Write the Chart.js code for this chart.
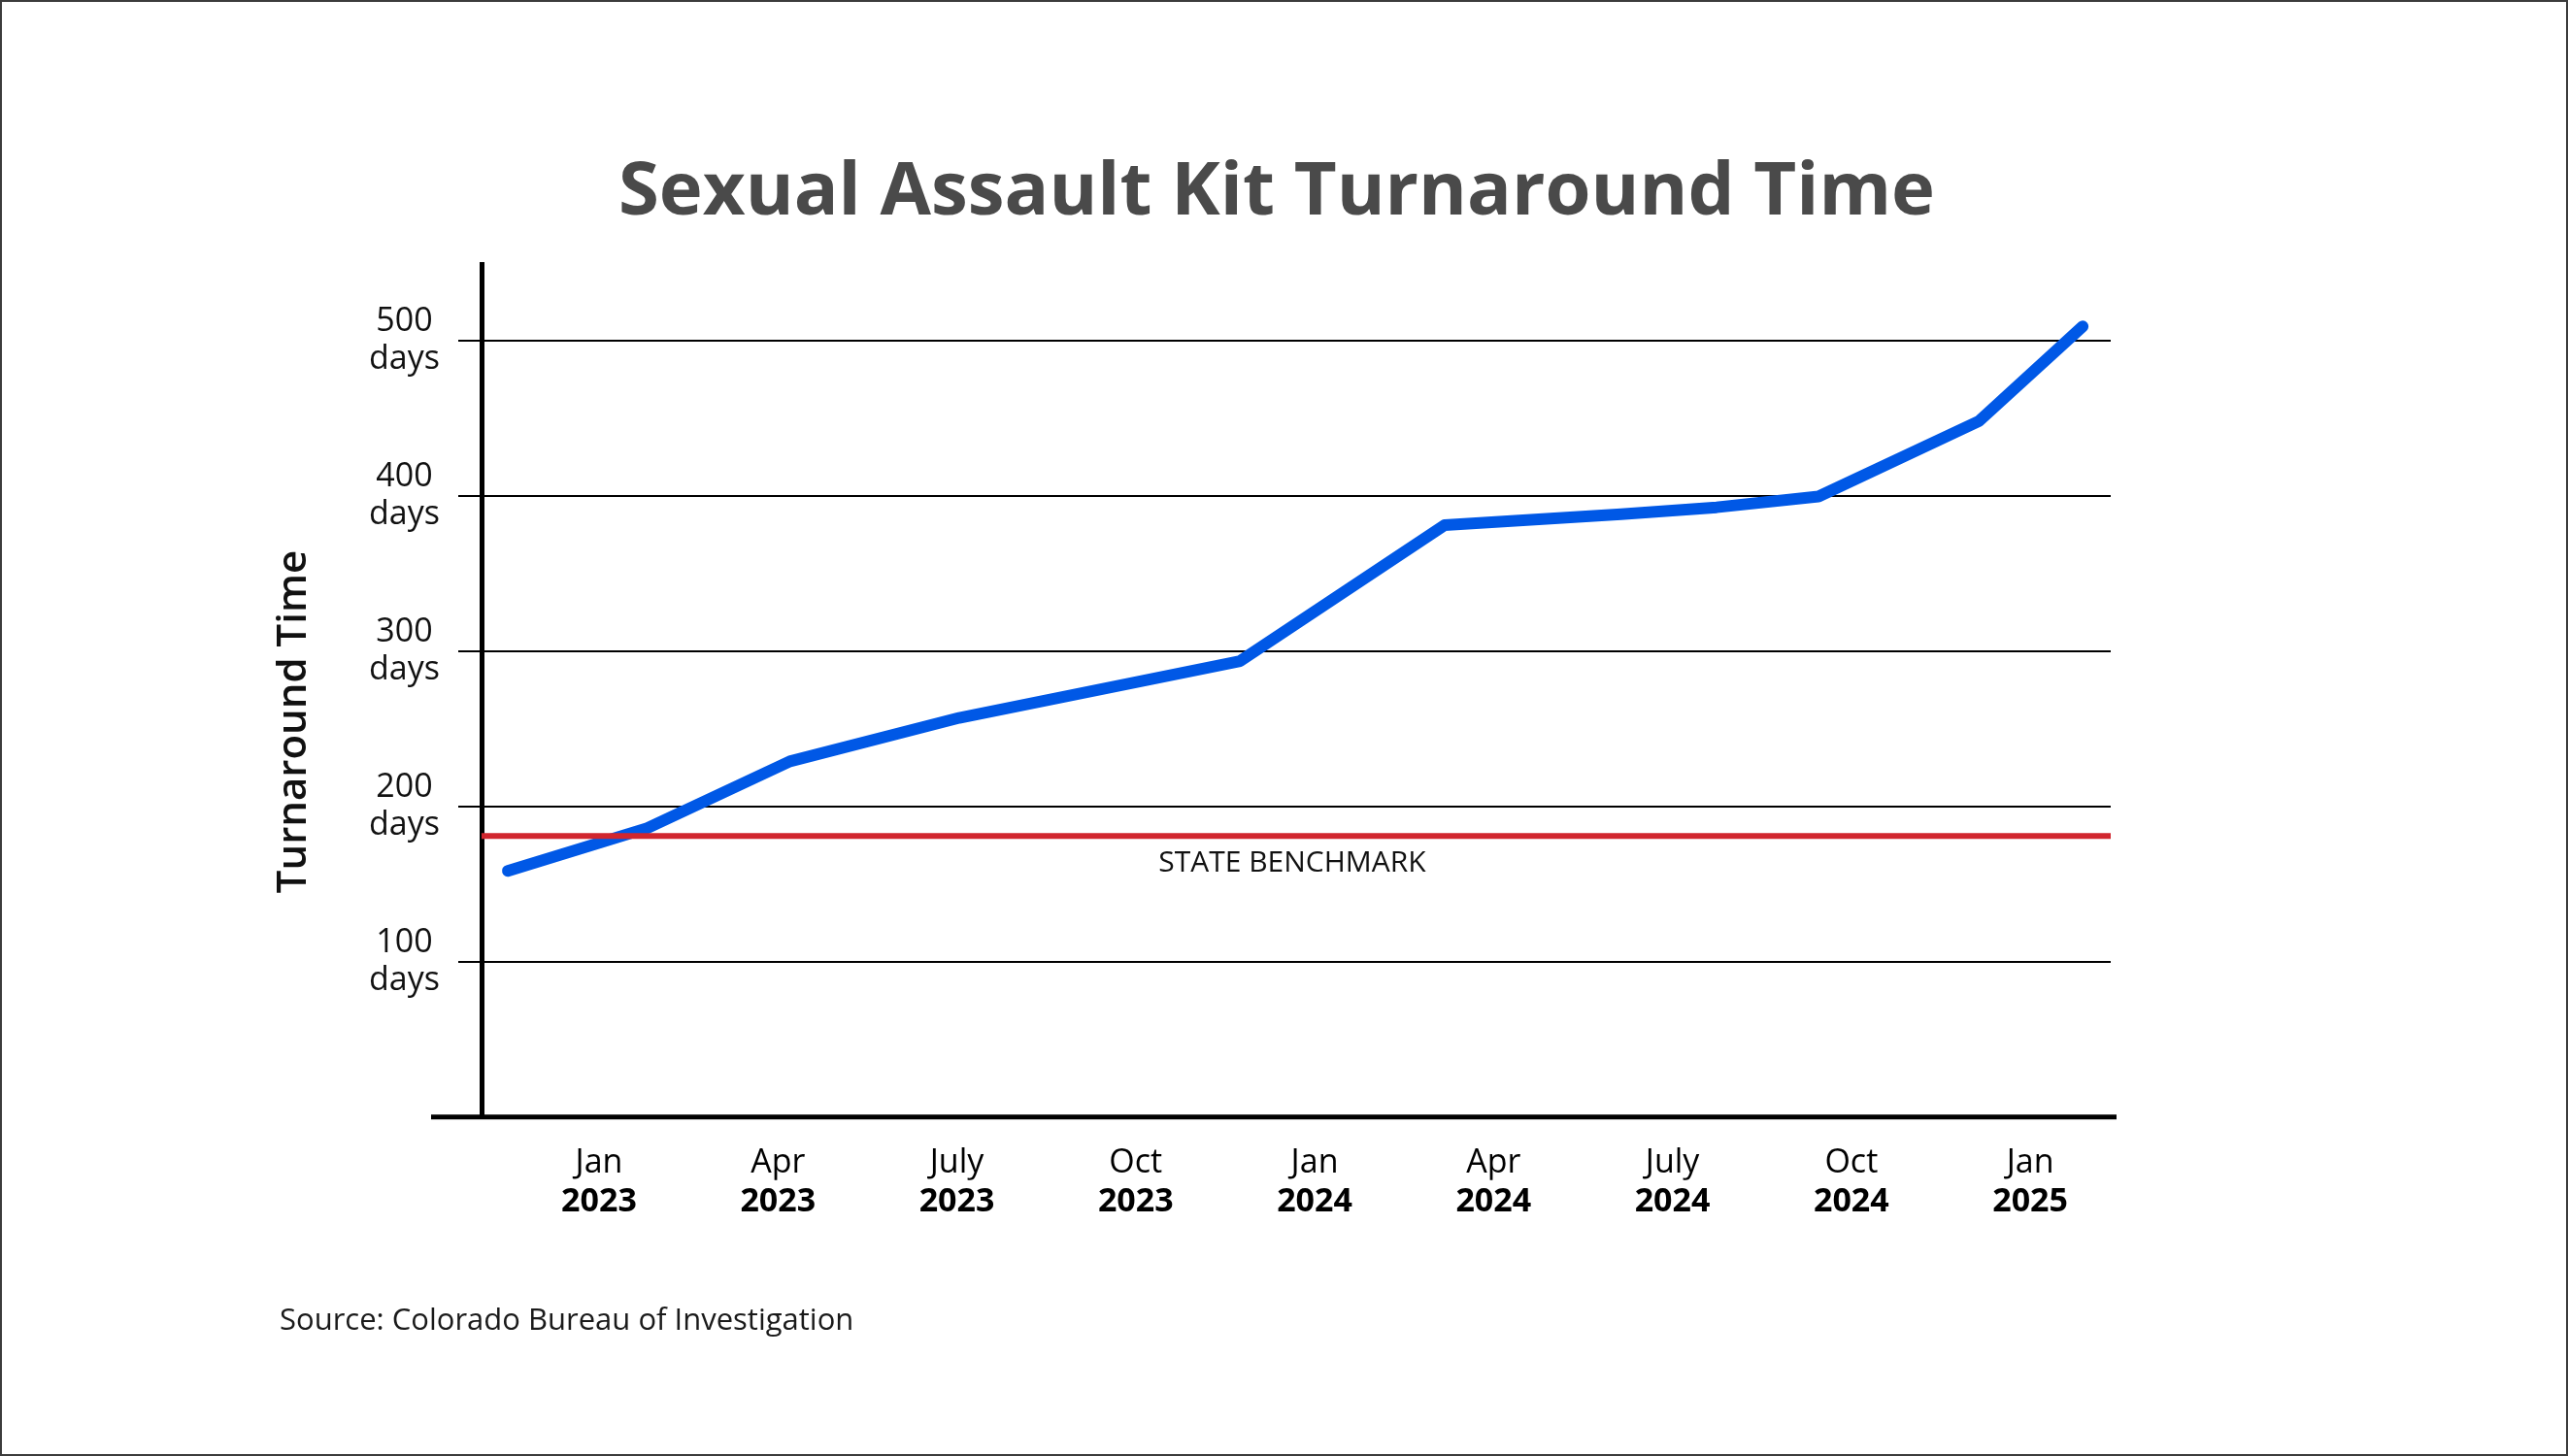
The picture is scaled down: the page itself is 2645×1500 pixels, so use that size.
<!DOCTYPE html>
<html>
<head>
<meta charset="utf-8">
<script src="https://cdn.jsdelivr.net/npm/chart.js@4.4.1/dist/chart.umd.min.js"></script>
<style>
  html, body { margin: 0; padding: 0; background: #fff; }
  #wrap { position: relative; width: 2645px; height: 1500px; }
  #frame { position: absolute; inset: 0; border: 2px solid #3c3c3c; pointer-events: none; }
  canvas { display: block; }
</style>
</head>
<body>
<div id="wrap">
  <canvas id="chart" width="2645" height="1500"></canvas>
  <div id="frame"></div>
</div>
<script>
// Months counted from Jan 2023 (0 = Jan 2023)
const monthPos = [-1.53, 0.81, 3.2, 6.04, 10.75, 14.18, 17.14, 18.74, 20.45, 23.14, 24.88];
const turnaroundDays = [158.5, 186, 229, 257, 293.5, 381, 388, 392.5, 399.5, 448, 509];
const benchmarkDays = 181;

const tickMonths = [0, 3, 6, 9, 12, 15, 18, 21, 24];
const monthLabels = ['Jan', 'Apr', 'July', 'Oct', 'Jan', 'Apr', 'July', 'Oct', 'Jan'];
const yearLabels = ['2023', '2023', '2023', '2023', '2024', '2024', '2024', '2024', '2025'];
const yTicks = [100, 200, 300, 400, 500];

const xMin = -1.97;
const xMax = 25.35;
const yMax = 549;

const FONT = "'Open Sans', 'Noto Sans', sans-serif";

// Extended x axis line, benchmark caption and rotated y title
const extrasPlugin = {
  id: 'extras',
  afterDraw(chart) {
    const ctx = chart.ctx;
    const area = chart.chartArea;
    const y = chart.scales.y;
    const zeroY = y.getPixelForValue(0);

    ctx.save();
    ctx.strokeStyle = '#000';
    ctx.lineWidth = 5;
    ctx.beginPath();
    ctx.moveTo(area.left - 52, zeroY);
    ctx.lineTo(area.right + 6, zeroY);
    ctx.stroke();

    ctx.fillStyle = '#111';
    ctx.font = '30px ' + FONT;
    ctx.textAlign = 'center';
    ctx.textBaseline = 'alphabetic';
    ctx.fillText('STATE BENCHMARK', (area.left + area.right) / 2 - 4, y.getPixelForValue(benchmarkDays) + 37);

    ctx.translate(area.left - 181, (area.top + area.bottom) / 2 + 32);
    ctx.rotate(-Math.PI / 2);
    ctx.font = '600 42px ' + FONT;
    ctx.fillText('Turnaround Time', 0, 0);
    ctx.restore();
  }
};

new Chart(document.getElementById('chart'), {
  type: 'line',
  data: {
    datasets: [
      {
        label: 'State benchmark',
        data: [{ x: xMin, y: benchmarkDays }, { x: xMax, y: benchmarkDays }],
        borderColor: '#D1262E',
        borderWidth: 6,
        pointRadius: 0,
        order: 0
      },
      {
        label: 'Turnaround time',
        data: monthPos.map((m, i) => ({ x: m, y: turnaroundDays[i] })),
        borderColor: '#0058E6',
        borderWidth: 12,
        borderCapStyle: 'round',
        borderJoinStyle: 'round',
        pointRadius: 0,
        tension: 0,
        order: 1
      }
    ]
  },
  options: {
    responsive: false,
    devicePixelRatio: 1,
    animation: false,
    layout: { padding: { left: 288, right: 303, top: 0, bottom: 0 } },
    plugins: {
      legend: { display: false },
      tooltip: { enabled: false },
      title: {
        display: true,
        text: 'Sexual Assault Kit Turnaround Time',
        color: '#4a4a4a',
        font: { family: FONT, size: 76, weight: 'bold', lineHeight: 1.2 },
        padding: { top: 154, bottom: 27 }
      },
      subtitle: {
        display: true,
        position: 'bottom',
        align: 'start',
        text: 'Source: Colorado Bureau of Investigation',
        color: '#1a1a1a',
        font: { family: FONT, size: 31, lineHeight: 1.2 },
        padding: { top: 67, bottom: 120 }
      }
    },
    scales: {
      x: {
        type: 'linear',
        min: xMin,
        max: xMax,
        afterBuildTicks: s => { s.ticks = tickMonths.map(v => ({ value: v })); },
        afterFit: s => { s.height = 65; },
        grid: { display: false, drawTicks: false },
        border: { display: false },
        ticks: {
          autoSkip: false,
          maxRotation: 0,
          padding: 31,
          color: '#000',
          font: { family: FONT, size: 34, lineHeight: 1 },
          callback: v => monthLabels[tickMonths.indexOf(v)]
        }
      },
      x2: {
        type: 'linear',
        position: 'bottom',
        weight: 1,
        min: xMin,
        max: xMax,
        afterBuildTicks: s => { s.ticks = tickMonths.map(v => ({ value: v })); },
        afterFit: s => { s.height = 60; },
        grid: { display: false, drawTicks: false },
        border: { display: false },
        ticks: {
          autoSkip: false,
          maxRotation: 0,
          padding: 6,
          color: '#000',
          font: { family: FONT, size: 34, weight: 'bold', lineHeight: 1 },
          callback: v => yearLabels[tickMonths.indexOf(v)]
        }
      },
      y: {
        min: 0,
        max: yMax,
        afterBuildTicks: s => { s.ticks = yTicks.map(v => ({ value: v })); },
        afterFit: s => { s.width = 208; },
        grid: { color: '#000', lineWidth: 2, tickLength: 24, tickColor: '#000' },
        border: { display: true, color: '#000', width: 5 },
        ticks: {
          padding: 19,
          crossAlign: 'center',
          color: '#111',
          font: { family: FONT, size: 34, lineHeight: 1.13 },
          callback: v => [String(v), 'days']
        }
      },
      yRight: {
        position: 'right',
        display: true,
        afterFit: s => { s.width = 168; },
        grid: { display: false, drawTicks: false },
        border: { display: false },
        ticks: { display: false }
      }
    }
  },
  plugins: [extrasPlugin]
});
</script>
</body>
</html>
